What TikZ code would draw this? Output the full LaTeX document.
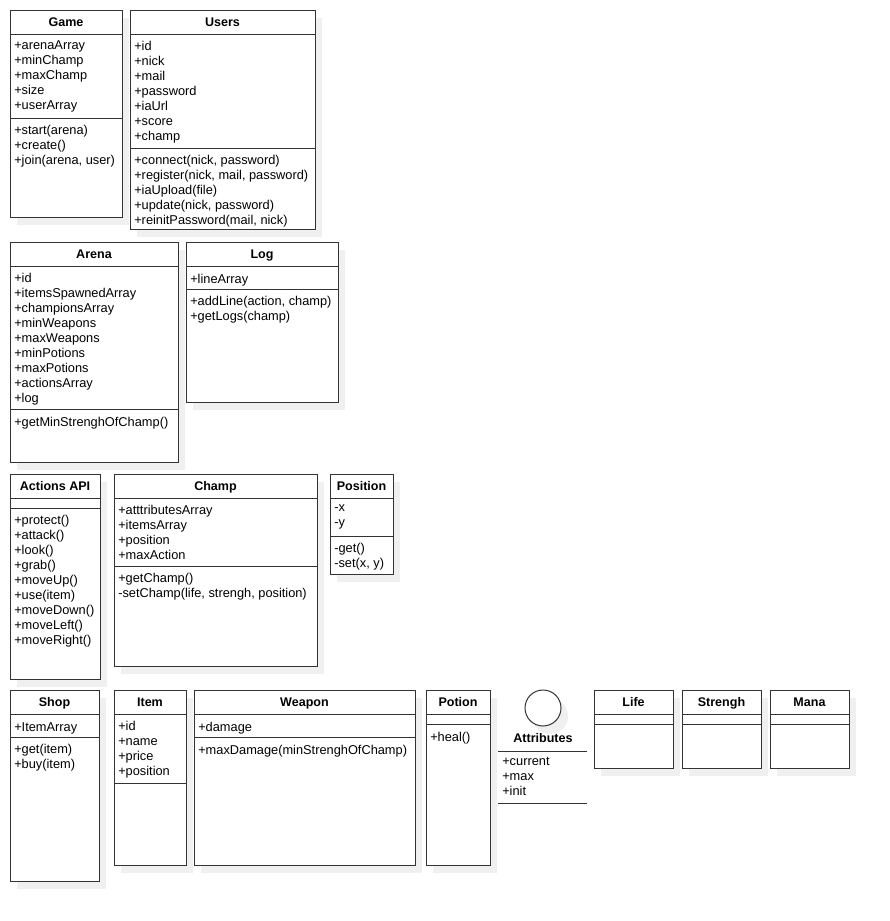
\documentclass[tikz,border=0pt]{standalone}
\usepackage{fontspec}
\setmainfont{Liberation Sans}
\usetikzlibrary{shadows}
\tikzset{
  umlbox/.style={draw=black!80, line width=0.75pt, fill=white,
    drop shadow={shadow xshift=5.25pt, shadow yshift=-6pt, fill=black!6, opacity=1}},
  umlline/.style={draw=black!80, line width=0.75pt},
  umltitle/.style={font=\fontsize{9.4}{11.25}\selectfont\bfseries, inner sep=0pt, anchor=base},
  umltext/.style={font=\fontsize{9.6}{11.25}\selectfont, align=left, anchor=north west,
    inner sep=0pt, execute at begin node=\strut}
}
\begin{document}
\begin{tikzpicture}[x=0.75pt,y=-0.75pt]
\useasboundingbox (0,0) rectangle (889,921);
% Game
\draw[umlbox] (10,10) rectangle (122,217);
\draw[umlline] (10,34) -- (122,34);
\draw[umlline] (10,118) -- (122,118);
\node[umltitle] (game) at (66,26.5) {Game};
\node[umltext] (game-attr) at (14,40.5) {+arenaArray\\+minChamp\\+maxChamp\\+size\\+userArray};
\node[umltext] (game-ops) at (14,124.5) {+start(arena)\\+create()\\+join(arena, user)};
% Users
\draw[umlbox] (130,10) rectangle (315,229);
\draw[umlline] (130,34) -- (315,34);
\draw[umlline] (130,148) -- (315,148);
\node[umltitle] (users) at (222.5,26.5) {Users};
\node[umltext] (users-attr) at (134,40.5) {+id\\+nick\\+mail\\+password\\+iaUrl\\+score\\+champ};
\node[umltext] (users-ops) at (134,154.5) {+connect(nick, password)\\+register(nick, mail, password)\\+iaUpload(file)\\+update(nick, password)\\+reinitPassword(mail, nick)};
% Arena
\draw[umlbox] (10,242) rectangle (178,462);
\draw[umlline] (10,266) -- (178,266);
\draw[umlline] (10,409) -- (178,409);
\node[umltitle] (arena) at (94,258.5) {Arena};
\node[umltext] (arena-attr) at (14,272.5) {+id\\+itemsSpawnedArray\\+championsArray\\+minWeapons\\+maxWeapons\\+minPotions\\+maxPotions\\+actionsArray\\+log};
\node[umltext] (arena-ops) at (14,415.5) {+getMinStrenghOfChamp()};
% Log
\draw[umlbox] (186,242) rectangle (338,402);
\draw[umlline] (186,266) -- (338,266);
\draw[umlline] (186,289) -- (338,289);
\node[umltitle] (log) at (262,258.5) {Log};
\node[umltext] (log-attr) at (190,272.5) {+lineArray};
\node[umltext] (log-ops) at (190,295.5) {+addLine(action, champ)\\+getLogs(champ)};
% Actions API
\draw[umlbox] (10,474) rectangle (100,679);
\draw[umlline] (10,498) -- (100,498);
\draw[umlline] (10,508) -- (100,508);
\node[umltitle] (actions) at (55,490.5) {Actions API};
\node[umltext] (actions-ops) at (14,514.5) {+protect()\\+attack()\\+look()\\+grab()\\+moveUp()\\+use(item)\\+moveDown()\\+moveLeft()\\+moveRight()};
% Champ
\draw[umlbox] (114,474) rectangle (317,666);
\draw[umlline] (114,498) -- (317,498);
\draw[umlline] (114,566) -- (317,566);
\node[umltitle] (champ) at (215.5,490.5) {Champ};
\node[umltext] (champ-attr) at (118,504.5) {+atttributesArray\\+itemsArray\\+position\\+maxAction};
\node[umltext] (champ-ops) at (118,572.5) {+getChamp()\\-setChamp(life, strengh, position)};
% Position
\draw[umlbox] (330,474) rectangle (393,574);
\draw[umlline] (330,498) -- (393,498);
\draw[umlline] (330,536) -- (393,536);
\node[umltitle] (position) at (361.5,490.5) {Position};
\node[umltext] (position-attr) at (334,504.5) {-x\\-y};
\node[umltext] (position-ops) at (334,542.5) {-get()\\-set(x, y)};
% Shop
\draw[umlbox] (10,690) rectangle (99,881);
\draw[umlline] (10,714) -- (99,714);
\draw[umlline] (10,737) -- (99,737);
\node[umltitle] (shop) at (54.5,706.5) {Shop};
\node[umltext] (shop-attr) at (14,720.5) {+ItemArray};
\node[umltext] (shop-ops) at (14,743.5) {+get(item)\\+buy(item)};
% Item
\draw[umlbox] (114,690) rectangle (186,865);
\draw[umlline] (114,714) -- (186,714);
\draw[umlline] (114,783) -- (186,783);
\node[umltitle] (item) at (150,706.5) {Item};
\node[umltext] (item-attr) at (118,720.5) {+id\\+name\\+price\\+position};
% Weapon
\draw[umlbox] (194,690) rectangle (415,865);
\draw[umlline] (194,714) -- (415,714);
\draw[umlline] (194,737) -- (415,737);
\node[umltitle] (weapon) at (304.5,706.5) {Weapon};
\node[umltext] (weapon-attr) at (198,720.5) {+damage};
\node[umltext] (weapon-ops) at (198,743.5) {+maxDamage(minStrenghOfChamp)};
% Potion
\draw[umlbox] (426,690) rectangle (490,865);
\draw[umlline] (426,714) -- (490,714);
\draw[umlline] (426,724) -- (490,724);
\node[umltitle] (potion) at (458,706.5) {Potion};
\node[umltext] (potion-ops) at (430,730.5) {+heal()};
% Attributes
\draw[umlbox] (543,708) circle[radius=13.5pt];
\node[umltitle] (attributes) at (543,742.5) {Attributes};
\draw[umlline] (498,751) -- (587,751);
\node[umltext] (attributes-attr) at (502,756.5) {+current\\+max\\+init};
\draw[umlline] (498,803) -- (587,803);
% Life
\draw[umlbox] (594,690) rectangle (673,768);
\draw[umlline] (594,714) -- (673,714);
\draw[umlline] (594,724) -- (673,724);
\node[umltitle] (life) at (633.5,706.5) {Life};
% Strengh
\draw[umlbox] (682,690) rectangle (761,768);
\draw[umlline] (682,714) -- (761,714);
\draw[umlline] (682,724) -- (761,724);
\node[umltitle] (strengh) at (721.5,706.5) {Strengh};
% Mana
\draw[umlbox] (770,690) rectangle (849,768);
\draw[umlline] (770,714) -- (849,714);
\draw[umlline] (770,724) -- (849,724);
\node[umltitle] (mana) at (809.5,706.5) {Mana};
\end{tikzpicture}
\end{document}
